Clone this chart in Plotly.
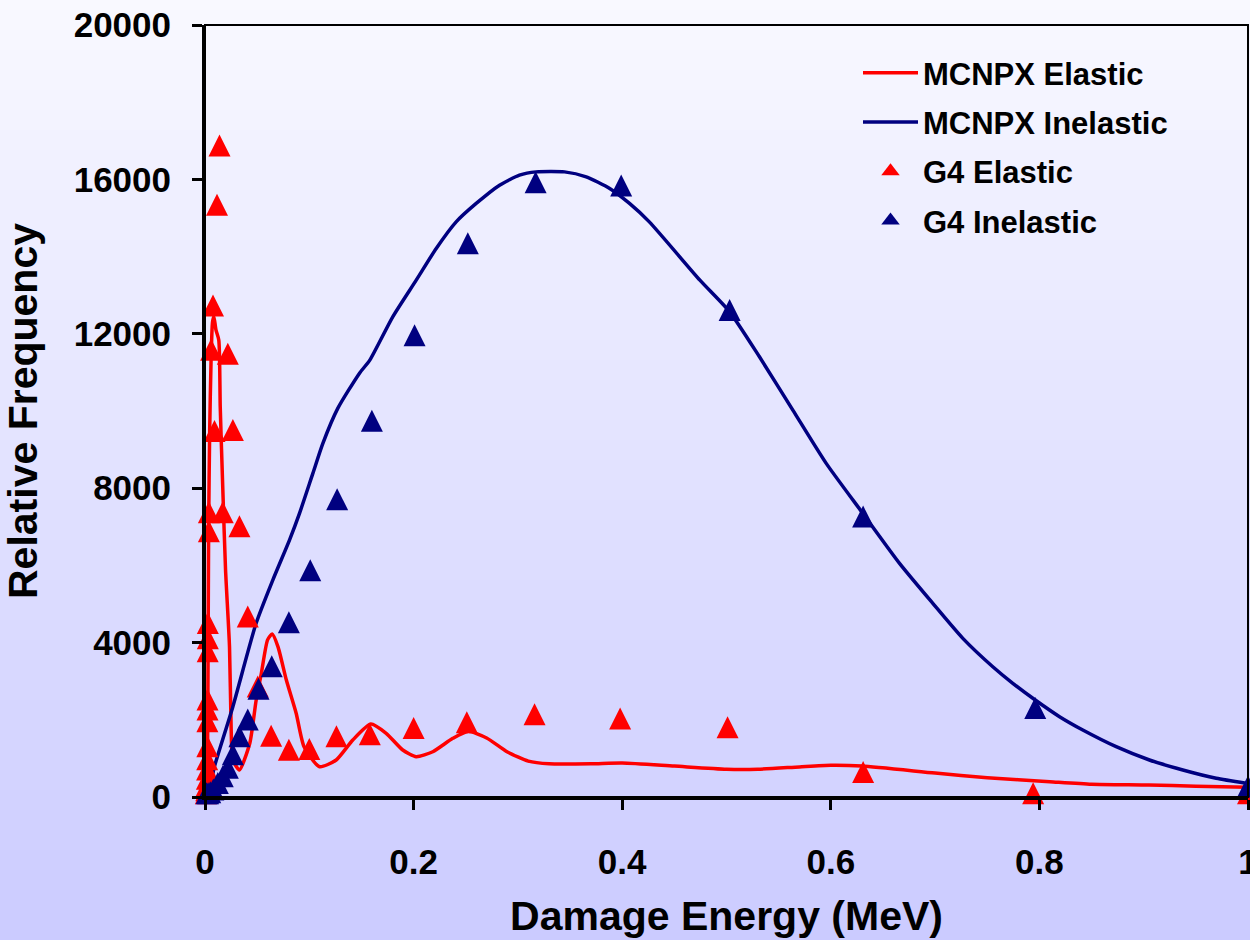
import plotly.graph_objects as go

# MCNPX recoil spectra (smooth curves)
mcnpx_el_x = [0.0005, 0.0015, 0.0025, 0.003, 0.0035, 0.0045, 0.0058, 0.0072, 0.0085, 0.0105,
              0.0132, 0.0146, 0.0171, 0.0197, 0.0235, 0.0251, 0.0267, 0.033, 0.043,
              0.049, 0.054, 0.060, 0.0644, 0.070, 0.078, 0.0874, 0.095, 0.1098, 0.1258,
              0.1417, 0.159, 0.1737, 0.1896, 0.2025, 0.2184, 0.2376, 0.252, 0.27, 0.29,
              0.31, 0.33, 0.37, 0.40, 0.45, 0.50, 0.53, 0.57, 0.60, 0.63,
              0.70, 0.75, 0.81, 0.85, 0.905, 0.95, 1.0]
mcnpx_el_y = [0, 200, 1500, 4000, 7000, 9500, 11300, 12300, 12450, 12100,
              11840, 10110, 7950, 5880, 3890, 1735, 960, 700, 1400,
              2500, 3200, 4070, 4220, 3890, 3030, 2170, 1300, 785, 958,
              1476, 1890, 1650, 1217, 1044, 1173, 1520, 1700, 1530, 1165,
              930, 860, 860, 880, 800, 720, 720, 780, 820, 800,
              620, 500, 396, 330, 311, 280, 250]

mcnpx_in_x = [0.001, 0.005, 0.009, 0.0267, 0.049, 0.065, 0.081, 0.0906, 0.1034, 0.113,
              0.1273, 0.148, 0.158, 0.18, 0.2025, 0.2217, 0.2408, 0.26, 0.2824, 0.3015,
              0.3175, 0.3447, 0.3655, 0.388, 0.407, 0.426, 0.4745, 0.503, 0.5316, 0.5636,
              0.5956, 0.6307, 0.6659, 0.6978, 0.7266, 0.7553, 0.7745, 0.796, 0.8193, 0.8416,
              0.8736, 0.9055, 0.9375, 0.9695, 0.998]
mcnpx_in_y = [0, 300, 785, 2340, 4500, 5620, 6656, 7348, 8384, 9161,
              10067, 10974, 11318, 12440, 13390, 14211, 14900, 15377, 15851, 16110,
              16195, 16195, 16066, 15765, 15377, 14900, 13390, 12570, 11404, 10023,
              8643, 7348, 6053, 5017, 4110, 3375, 2945, 2512, 2080, 1735,
              1303, 958, 699, 484, 355]

# Geant4 results (points)
g4_el_x = [1.0, 0.794, 0.631, 0.501, 0.398, 0.316, 0.251, 0.2, 0.158, 0.126,
           0.1, 0.0804, 0.0634, 0.0506, 0.041, 0.033, 0.0267, 0.0219, 0.017, 0.0139,
           0.0115, 0.0091, 0.0077, 0.0059, 0.0037, 0.0037, 0.0027, 0.0027, 0.0026, 0.0024,
           0.0024, 0.0023, 0.0022, 0.0021, 0.002, 0.0018, 0.0015, 0.0012, 0.0008]
g4_el_y = [0, 0, 550, 1710, 1940, 2050, 1840, 1690, 1530, 1480,
           1150, 1130, 1490, 2770, 4580, 6920, 9410, 11390, 7280, 16780,
           15250, 9390, 12640, 11490, 7280, 6790, 4410, 4020, 3680, 2430,
           2170, 1870, 1220, 880, 620, 380, 200, 80, 0]

g4_in_x = [1.0, 0.796, 0.631, 0.503, 0.399, 0.317, 0.252, 0.2009, 0.16, 0.1267,
           0.1009, 0.0804, 0.064, 0.0513, 0.041, 0.033, 0.0267, 0.0219, 0.017, 0.0123,
           0.008, 0.005, 0.003, 0.0015]
g4_in_y = [180, 2210, 7170, 12520, 15750, 15830, 14250, 11870, 9650, 7620,
           5780, 4430, 3290, 2710, 1910, 1480, 1010, 660, 440, 270,
           100, 30, 0, 0]

x_ticks = [0, 0.2, 0.4, 0.6, 0.8, 1.0]
x_tick_text = ["0", "0.2", "0.4", "0.6", "0.8", "1"]
y_ticks = [0, 4000, 8000, 12000, 16000, 20000]

RED = "#FF0000"
NAVY = "#000080"
FONT = "Liberation Sans"
MSIZE = 22

W, H = 1250, 940
ML, MR, MT, MB = 205, 2, 25, 143
PW, PH = W - ML - MR, H - MT - MB

fig = go.Figure()

fig.add_trace(go.Scatter(
    x=mcnpx_el_x, y=mcnpx_el_y, mode="lines", name="MCNPX Elastic",
    line=dict(color=RED, width=3.5, shape="spline", smoothing=0.6),
    legendgroup="a"))
fig.add_trace(go.Scatter(
    x=mcnpx_in_x, y=mcnpx_in_y, mode="lines", name="MCNPX Inelastic",
    line=dict(color=NAVY, width=3.5, shape="spline", smoothing=0.6),
    legendgroup="b"))

# upward triangles centred on their value: an inverted arrow turned 180 degrees,
# pulled back so its centroid sits on the point
tri = dict(symbol="arrow-down", angle=180, size=MSIZE, standoff=MSIZE * 2 / 3,
           line=dict(width=0))
fig.add_trace(go.Scatter(
    x=g4_el_x, y=g4_el_y, mode="markers", name="G4 Elastic",
    marker=dict(color=RED, **tri), legendgroup="c", showlegend=False,
    cliponaxis=False))
fig.add_trace(go.Scatter(
    x=g4_in_x, y=g4_in_y, mode="markers", name="G4 Inelastic",
    marker=dict(color=NAVY, **tri), legendgroup="d", showlegend=False,
    cliponaxis=False))

# legend keys for the point series (plain triangles, no offset)
for name, col, grp in [("G4 Elastic", RED, "c"), ("G4 Inelastic", NAVY, "d")]:
    fig.add_trace(go.Scatter(
        x=[None], y=[None], mode="markers", name=name, legendgroup=grp,
        marker=dict(color=col, symbol="triangle-up", size=16, line=dict(width=0))))

# vertical background gradient, white-lavender
shapes = []
n_bands = 94
top_rgb = (249, 249, 255)
bot_rgb = (203, 203, 255)
for i in range(n_bands):
    t = (i + 0.5) / n_bands
    c = tuple(round(a + (b - a) * t) for a, b in zip(top_rgb, bot_rgb))
    py0 = H * i / n_bands
    py1 = H * (i + 1) / n_bands + 0.6
    shapes.append(dict(
        type="rect", xref="paper", yref="paper", layer="below",
        x0=-ML / PW, x1=(W - ML) / PW,
        y0=(H - MB - py1) / PH, y1=(H - MB - py0) / PH,
        fillcolor="rgb(%d,%d,%d)" % c, line=dict(width=0)))
# plot frame
shapes.append(dict(type="rect", xref="paper", yref="paper", layer="above",
                   x0=0, x1=1, y0=0, y1=1, line=dict(color="black", width=2)))

axis_common = dict(
    showline=True, linecolor="black", linewidth=3, mirror=False,
    ticks="outside", ticklen=10, tickwidth=3, tickcolor="black",
    showgrid=False, zeroline=False, automargin=False,
    ticklabeloverflow="allow",
    tickfont=dict(family=FONT, size=35, color="black", weight="bold"),
)

fig.update_layout(
    width=W, height=H,
    margin=dict(l=ML, r=MR, t=MT, b=MB, pad=0),
    paper_bgcolor="rgb(226,226,255)",
    plot_bgcolor="rgba(0,0,0,0)",
    shapes=shapes,
    showlegend=True,
    legend=dict(
        x=(858 - ML) / PW, y=(H - MB - 46) / PH, xanchor="left", yanchor="top",
        bgcolor="rgba(0,0,0,0)", borderwidth=0,
        font=dict(family=FONT, size=31, color="black", weight="bold"),
        tracegroupgap=6, itemwidth=55, itemsizing="trace",
    ),
    xaxis=dict(
        range=[0, 1], tickvals=x_ticks, ticktext=x_tick_text,
        ticklabelstandoff=22,
        title=dict(text="Damage Energy (MeV)", standoff=22,
                   font=dict(family=FONT, size=41, color="black", weight="bold")),
        **axis_common),
    yaxis=dict(
        range=[0, 20000], tickvals=y_ticks, tickformat="d",
        ticklabelstandoff=14,
        title=dict(text="Relative Frequency", standoff=28,
                   font=dict(family=FONT, size=41, color="black", weight="bold")),
        **axis_common),
)

fig.write_html("out.html")
